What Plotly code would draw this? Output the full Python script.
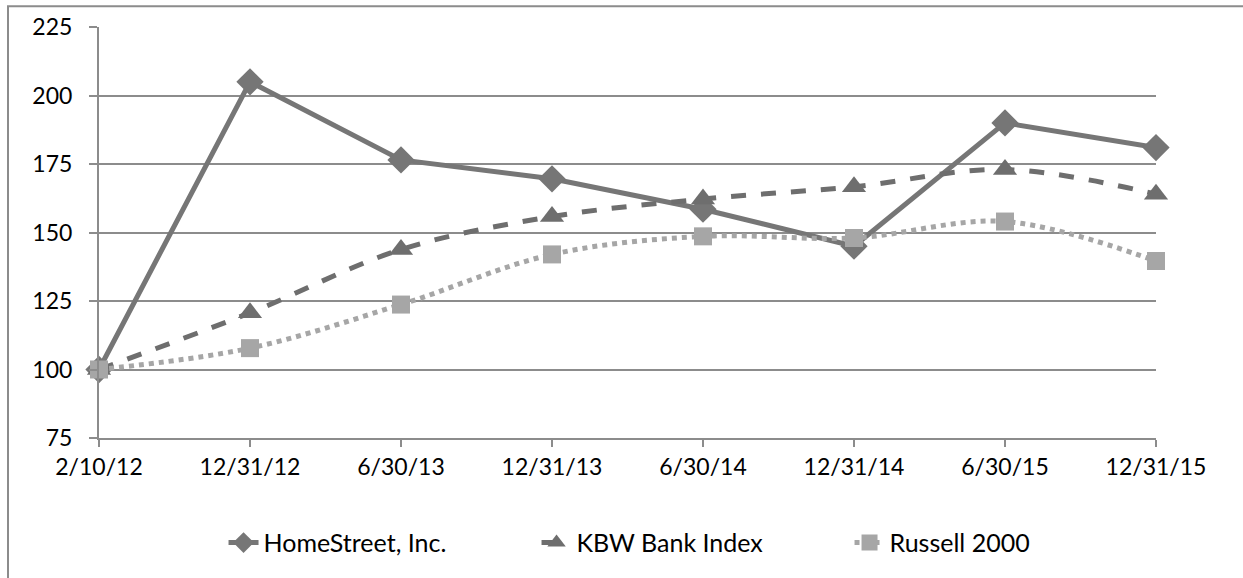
import plotly.graph_objects as go

dates = ["2/10/12", "12/31/12", "6/30/13", "12/31/13", "6/30/14", "12/31/14", "6/30/15", "12/31/15"]
homestreet = [100, 205, 176.5, 169.6, 158.5, 145, 190, 181]
kbw = [100, 120.7, 143.8, 155.8, 162.2, 166.7, 173, 164]
russell = [100, 107.8, 123.7, 142, 148.6, 148, 154, 139.6]
y_ticks = [75, 100, 125, 150, 175, 200, 225]

font_family = "Lato, 'Open Sans', sans-serif"

fig = go.Figure()
fig.add_trace(go.Scatter(
    x=dates, y=homestreet, name="HomeStreet, Inc.", mode="lines+markers",
    line=dict(color="#767676", width=5),
    marker=dict(symbol="diamond", size=21, color="#767676"),
    cliponaxis=False,
))
fig.add_trace(go.Scatter(
    x=dates, y=kbw, name="KBW Bank Index", mode="lines+markers",
    line=dict(color="#6e6e6e", width=5, dash="dash", shape="spline"),
    marker=dict(symbol="triangle-up", size=21, color="#6e6e6e"),
    cliponaxis=False,
))
fig.add_trace(go.Scatter(
    x=dates, y=russell, name="Russell 2000", mode="lines+markers",
    line=dict(color="#a6a6a6", width=5, dash="dot", shape="spline"),
    marker=dict(symbol="square", size=18, color="#a6a6a6"),
    cliponaxis=False,
))

fig.update_layout(
    width=1243, height=578,
    margin=dict(l=99, r=87, t=27, b=137),
    paper_bgcolor="white", plot_bgcolor="white",
    font=dict(family=font_family, size=23, color="black"),
    showlegend=True,
    legend=dict(orientation="h", x=0.562, xanchor="center", y=-0.255, yanchor="middle",
                font=dict(size=25), entrywidth=268, entrywidthmode="pixels",
                tracegroupgap=0),
    xaxis=dict(
        type="category", range=[0, len(dates) - 1],
        showline=True, linecolor="#8c8c8c", linewidth=2,
        ticks="outside", ticklen=7, tickcolor="#8c8c8c", tickwidth=2,
        showgrid=False, zeroline=False, ticklabelstandoff=0,
    ),
    yaxis=dict(
        range=[75, 225], tickvals=y_ticks,
        showline=True, linecolor="#8c8c8c", linewidth=2,
        ticks="outside", ticklen=8, tickcolor="#8c8c8c", tickwidth=2,
        showgrid=True, gridcolor="#8c8c8c", gridwidth=2,
        zeroline=False, ticklabelstandoff=12,
    ),
    shapes=[dict(type="rect", xref="paper", yref="paper",
                 x0=(8 - 99) / 1057, x1=1.2, y0=-0.6, y1=1 + (27 - 6) / 414,
                 line=dict(color="#8c8c8c", width=2), layer="below")],
)

fig.write_html("out.html", config={"displayModeBar": False},
               post_script="document.body.style.margin='0px';")
